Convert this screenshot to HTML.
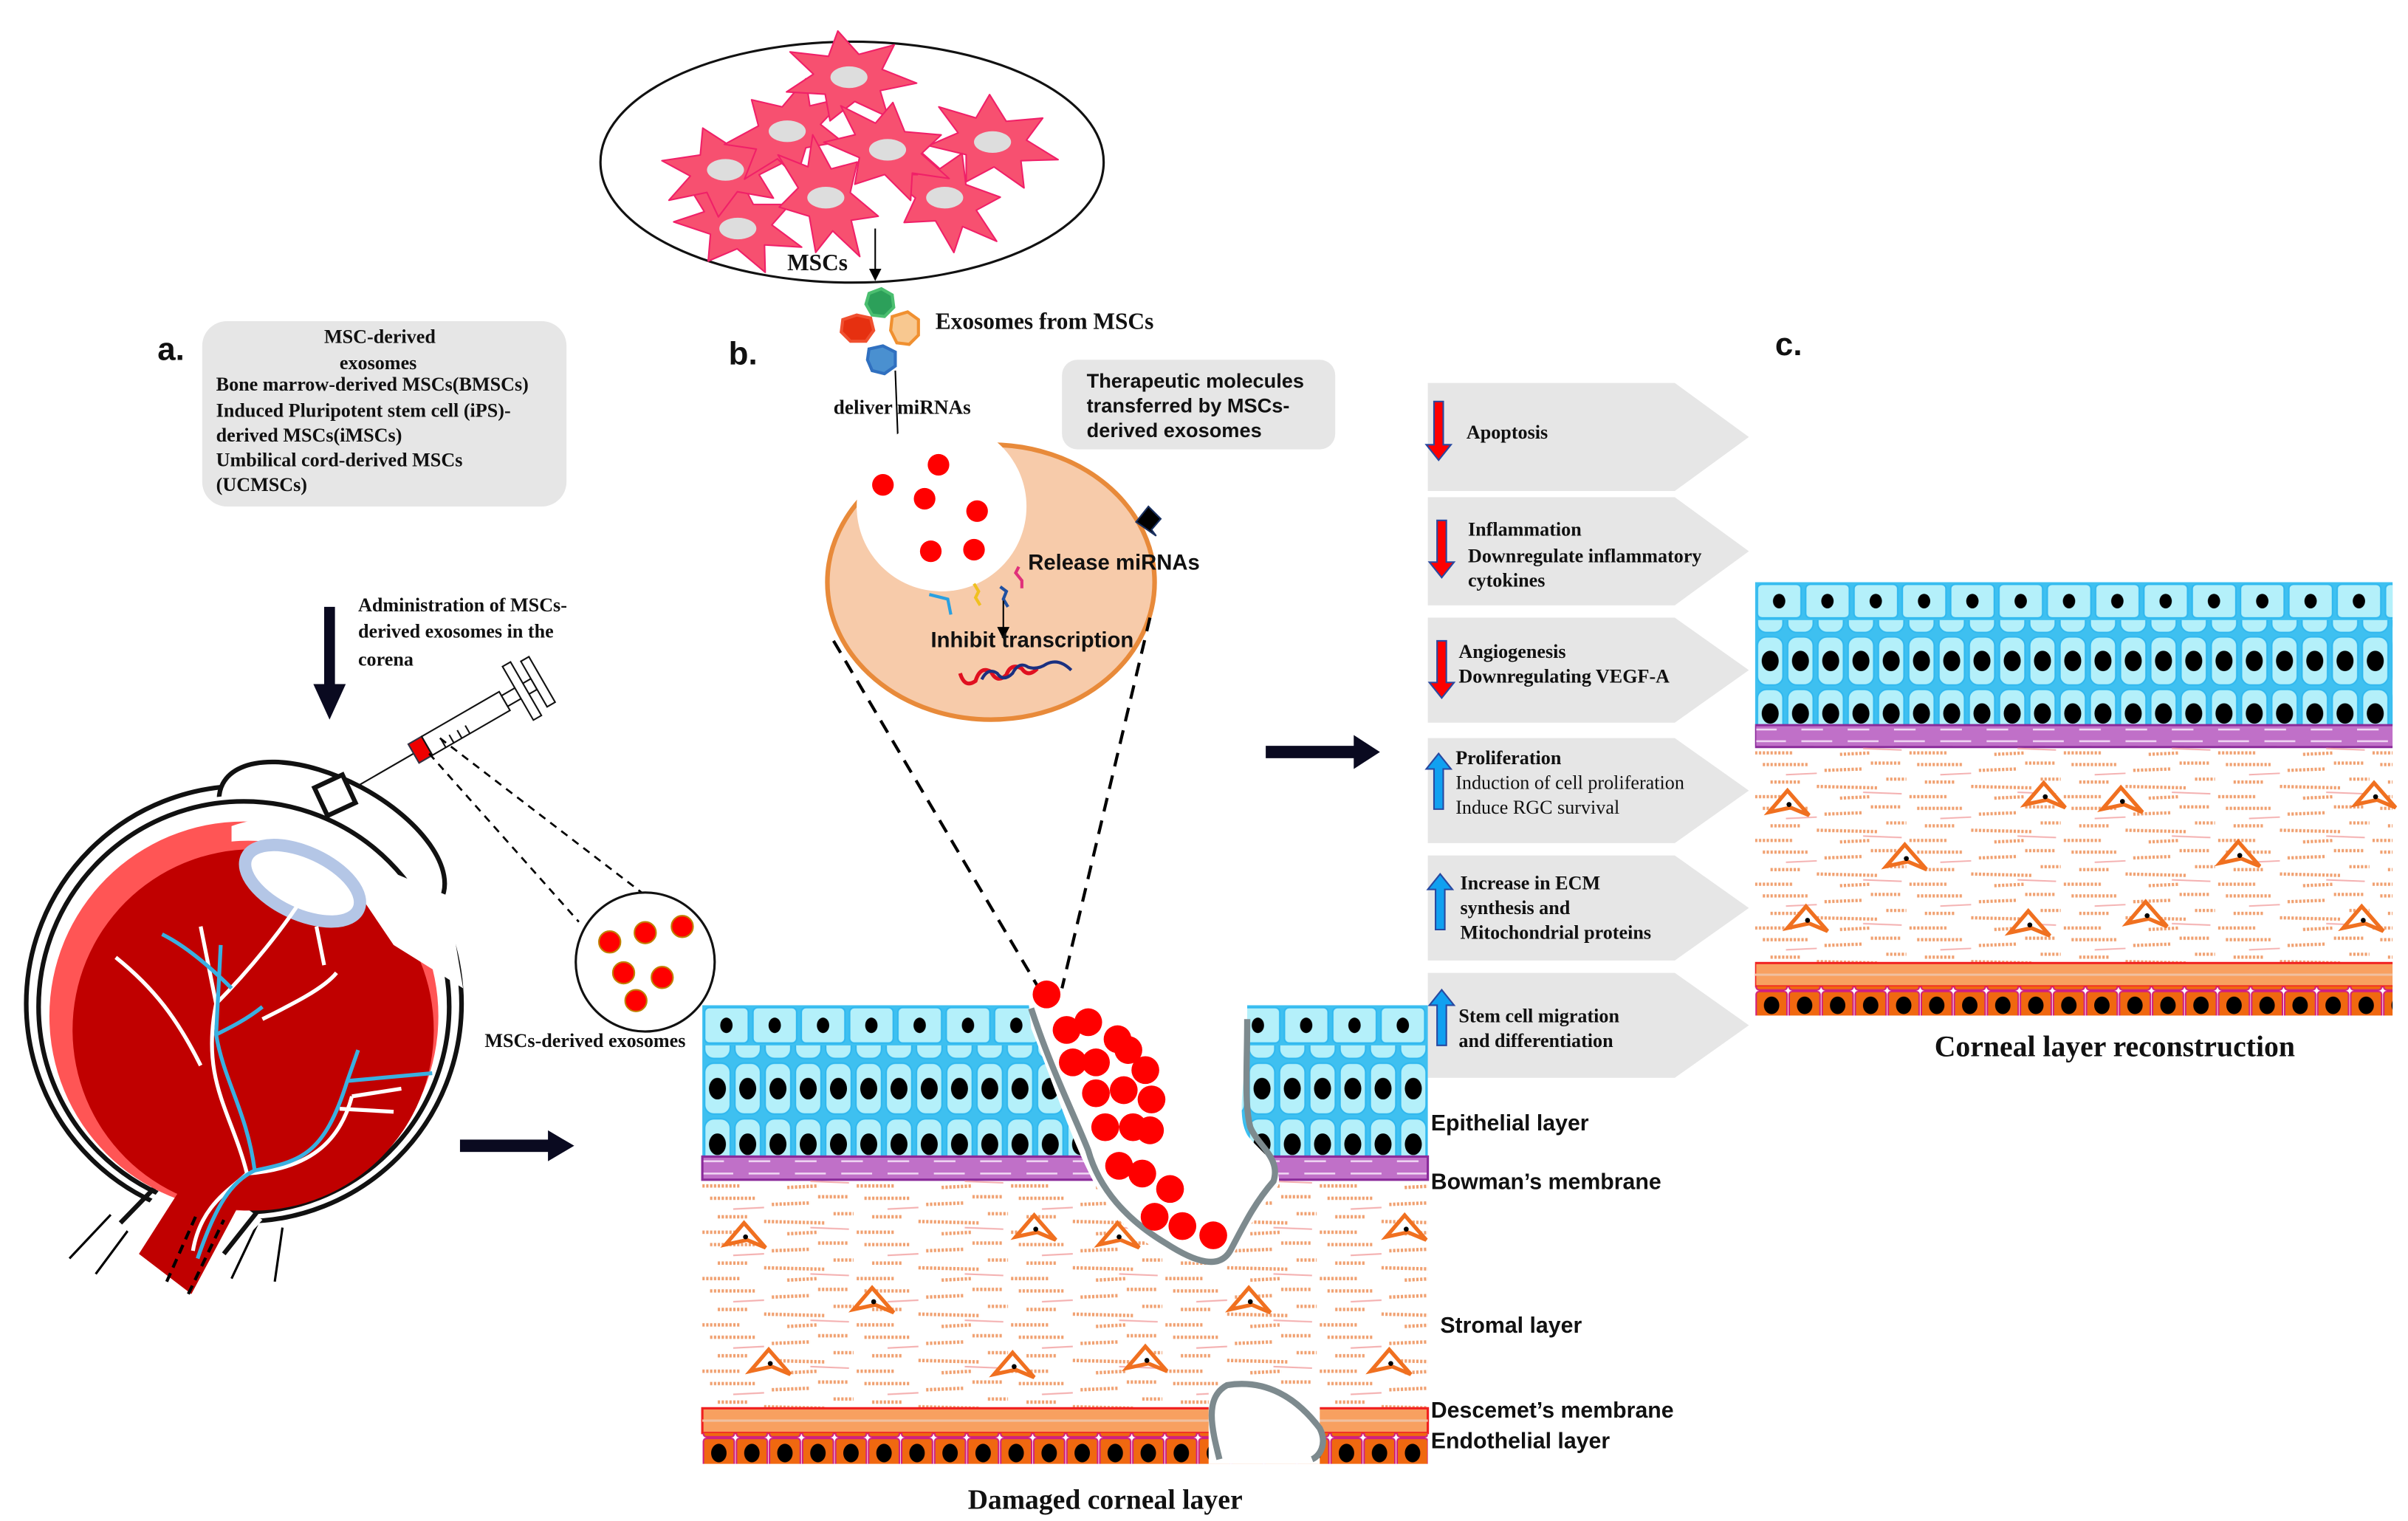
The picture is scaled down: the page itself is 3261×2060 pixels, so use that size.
<!DOCTYPE html>
<html><head><meta charset="utf-8">
<style>
html,body{margin:0;padding:0;background:#fff;}
svg{display:block;}
.s{font-family:"Liberation Serif",serif;font-weight:bold;fill:#111;}
.a{font-family:"Liberation Sans",sans-serif;font-weight:bold;fill:#111;}
</style></head>
<body>
<svg width="3261" height="2060" viewBox="0 0 1560 985" preserveAspectRatio="none" xmlns="http://www.w3.org/2000/svg" xmlns:xlink="http://www.w3.org/1999/xlink">
<defs>
<marker id="ah" markerWidth="8" markerHeight="8" refX="4" refY="4" orient="auto"><path d="M0,0 L8,4 L0,8 z" fill="#000"/></marker>
<polygon id="star" points="44,0 20.9,6.9 27.4,23.4 5.1,15.3 -9.8,29.2 -14.4,12.3 -39.5,13 -23.1,0 -39.5,-13 -14.4,-12.3 -9.8,-29.2 5.1,-15.3 27.4,-23.4 20.9,-6.9" fill="#f75070" stroke="#f02068" stroke-width="1" stroke-linejoin="round"/>
<g id="k"><path d="M0,6 L12,-8 L26,8 L14,3z" fill="#fff" stroke="#f07020" stroke-width="2.5"/><circle cx="13" cy="1" r="1.6" fill="#000"/></g>
<pattern id="pTop" width="31.3" height="26" patternUnits="userSpaceOnUse">
<rect x="1.5" y="1.5" width="28.3" height="23" rx="3" fill="#b4f0fa" stroke="#30b8ef"/><ellipse cx="15.6" cy="13" rx="4" ry="5" fill="#000"/></pattern>
<pattern id="pRow" width="19.6" height="36" patternUnits="userSpaceOnUse">
<rect x="1.5" y="1.5" width="16.6" height="33" rx="6" fill="#b4f0fa" stroke="#30b8ef"/><ellipse cx="9.8" cy="18" rx="5.5" ry="7" fill="#000"/></pattern>
<pattern id="pEn" width="21.4" height="20" patternUnits="userSpaceOnUse">
<rect x="0.7" y="0.5" width="20" height="19" rx="2" fill="#f06810" stroke="#d02080"/><ellipse cx="10.7" cy="10" rx="5" ry="6" fill="#000"/></pattern>
<pattern id="pFib" width="100" height="30" patternUnits="userSpaceOnUse">
<g stroke="#f0a070" stroke-width="2.2" stroke-dasharray="1.5,1" fill="none">
<path d="M5,5 H35 M45,9 L70,8 M75,4 H95 M10,17 H30 M40,20 L80,21 M85,15 H98 M0,27 H25 M55,28 L75,27"/></g>
<g stroke="#f4b0b0" stroke-width="1" fill="none"><path d="M20,12 L40,11 M70,24 L95,25"/></g></pattern>
<pattern id="pBow" width="30" height="15" patternUnits="userSpaceOnUse">
<rect width="30" height="15" fill="#c070c8"/><path d="M0,4 H20 M8,8 H30 M0,11 H14" stroke="#f0d8f4" stroke-width="1.2"/></pattern>
<g id="cor">
<rect x="0" y="0" width="470" height="98" fill="#3ec0f0"/>
<rect x="0" y="0" width="470" height="26" fill="url(#pTop)"/>
<rect x="0" y="26" width="470" height="72" fill="url(#pRow)"/>
<rect x="0" y="98" width="470" height="15" fill="url(#pBow)" stroke="#8a2a9a" stroke-width="1.5"/>
<rect x="0" y="113" width="470" height="148" fill="url(#pFib)"/>
<rect x="0" y="261" width="470" height="16" fill="#f8a060" stroke="#f02020" stroke-width="1.5"/>
<path d="M0,269 H470" stroke="#f0c0a0" stroke-width="1.5"/>
<rect x="0" y="277" width="470" height="20" fill="url(#pEn)"/>
</g>
<clipPath id="clR"><rect x="0" y="0" width="413" height="300"/></clipPath>
</defs>

<!-- MSC ellipse -->
<ellipse cx="552" cy="105" rx="163" ry="78" fill="#fff" stroke="#111" stroke-width="1.5"/>
<use href="#star" xlink:href="#star" transform="translate(478,145) rotate(20)"/>
<use href="#star" xlink:href="#star" transform="translate(470,110) rotate(-10)"/>
<use href="#star" xlink:href="#star" transform="translate(643,92) rotate(15)"/>
<use href="#star" xlink:href="#star" transform="translate(612,128) rotate(40)"/>
<use href="#star" xlink:href="#star" transform="translate(510,85) rotate(-30)"/>
<use href="#star" xlink:href="#star" transform="translate(550,50) rotate(5)"/>
<use href="#star" xlink:href="#star" transform="translate(535,128) rotate(60)"/>
<use href="#star" xlink:href="#star" transform="translate(575,97) rotate(25)"/>
<g fill="#ddd"><ellipse cx="550" cy="50" rx="12" ry="7"/><ellipse cx="470" cy="110" rx="12" ry="7"/><ellipse cx="510" cy="85" rx="12" ry="7"/><ellipse cx="575" cy="97" rx="12" ry="7"/><ellipse cx="643" cy="92" rx="12" ry="7"/><ellipse cx="535" cy="128" rx="12" ry="7"/><ellipse cx="612" cy="128" rx="12" ry="7"/><ellipse cx="478" cy="148" rx="12" ry="7"/></g>
<text x="510" y="175" class="s" font-size="15">MSCs</text>
<line x1="567" y1="148" x2="567" y2="178" stroke="#000" stroke-width="1" marker-end="url(#ah)"/>

<!-- exosomes -->
<path d="M563,190 l8,-3 l7,4 l1,8 l-6,6 l-8,-1 l-4,-7z" fill="#2ca05a" stroke="#4bbf70" stroke-width="2"/>
<path d="M546,207 l9,-3 l9,2 l2,8 l-5,7 l-10,0 l-6,-6z" fill="#e63010" stroke="#f05030" stroke-width="2"/>
<path d="M578,205 l10,-3 l7,5 l0,10 l-6,6 l-8,-1 l-4,-8z" fill="#f8c890" stroke="#f09030" stroke-width="2"/>
<path d="M563,226 l9,-2 l8,4 l0,9 l-7,5 l-8,-2 l-3,-7z" fill="#4a90d0" stroke="#3070c0" stroke-width="2"/>
<text x="606" y="213" class="s" font-size="15">Exosomes from MSCs</text>
<text x="540" y="268" class="s" font-size="13">deliver miRNAs</text>
<line x1="580" y1="240" x2="582" y2="292" stroke="#000" stroke-width="1" marker-end="url(#ah)"/>

<rect x="688" y="233" width="177" height="58" rx="10" fill="#e6e6e6"/>
<text class="a" font-size="13"><tspan x="704" y="251">Therapeutic molecules</tspan><tspan x="704" y="267">transferred  by MSCs-</tspan><tspan x="704" y="283">derived exosomes</tspan></text>

<!-- orange cell -->
<ellipse cx="642" cy="377" rx="106" ry="89" fill="#f7cbaa" stroke="#e88a3a" stroke-width="3"/>
<circle cx="610" cy="328" r="55" fill="#fff"/>
<g fill="#f00"><circle cx="572" cy="314" r="7"/><circle cx="608" cy="301" r="7"/><circle cx="599" cy="323" r="7"/><circle cx="633" cy="331" r="7"/><circle cx="603" cy="357" r="7"/><circle cx="631" cy="356" r="7"/></g>
<path d="M736,338 l8,-10 l8,8 l-6,7 l3,4z" fill="#000" stroke="#1a3060" stroke-width="1"/>
<text x="666" y="369" class="a" font-size="14">Release miRNAs</text>
<path d="M602,385 l12,3 l2,10" stroke="#2aa0e0" stroke-width="2" fill="none"/>
<path d="M631,378 l3,5 l-2,4 l3,5" stroke="#f0c020" stroke-width="2" fill="none"/>
<path d="M648,380 l4,3 l-2,5 l3,5" stroke="#2050a0" stroke-width="2" fill="none"/>
<path d="M660,367 l-2,4 l4,5 l0,5" stroke="#e0307a" stroke-width="2" fill="none"/>
<line x1="650" y1="389" x2="650" y2="410" stroke="#000" stroke-width="1" marker-end="url(#ah)"/>
<text x="603" y="419" class="a" font-size="14">Inhibit transcription</text>
<path d="M622,436 q3,10 10,5 q3,-10 10,-6 q4,8 10,2 q3,-8 10,-4 q4,6 10,0" stroke="#e01020" stroke-width="2.5" fill="none"/>
<path d="M636,440 q4,-8 10,-4 q4,6 10,0 q4,-8 10,-4 q6,2 12,-2 q8,-4 16,4" stroke="#1a3080" stroke-width="2" fill="none"/>
<line x1="540" y1="415" x2="673" y2="640" stroke="#000" stroke-width="2" stroke-dasharray="9,6"/>
<line x1="745" y1="400" x2="688" y2="640" stroke="#000" stroke-width="2" stroke-dasharray="9,6"/>

<!-- labels -->
<text x="102" y="233" class="a" font-size="21">a.</text>
<text x="472" y="236" class="a" font-size="21">b.</text>
<text x="1150" y="230" class="a" font-size="21">c.</text>
<rect x="131" y="208" width="236" height="120" rx="16" fill="#e6e6e6"/>
<text class="s" font-size="12.5"><tspan x="210" y="222">MSC-derived</tspan><tspan x="220" y="239">exosomes</tspan><tspan x="140" y="253">Bone marrow-derived MSCs(BMSCs)</tspan><tspan x="140" y="270">Induced Pluripotent stem cell (iPS)-</tspan><tspan x="140" y="286">derived MSCs(iMSCs)</tspan><tspan x="140" y="302">Umbilical cord-derived MSCs</tspan><tspan x="140" y="318">(UCMSCs)</tspan></text>

<rect x="210" y="393" width="7" height="52" fill="#0a0a20"/>
<path d="M203,443 L224,443 L213.5,466z" fill="#0a0a20"/>
<text class="s" font-size="12.5"><tspan x="232" y="396">Administration of MSCs-</tspan><tspan x="232" y="413">derived  exosomes  in  the</tspan><tspan x="232" y="431">corena</tspan></text>

<!-- syringe -->
<g transform="translate(268,488) rotate(-30)">
<line x1="-60" y1="0" x2="0" y2="0" stroke="#111" stroke-width="1"/>
<rect x="0" y="-7" width="10" height="14" fill="#e00" stroke="#334" stroke-width="1"/>
<rect x="10" y="-7" width="58" height="14" fill="#fff" stroke="#111" stroke-width="1"/>
<path d="M20,7 v-6 M26,7 v-6 M32,7 v-6 M38,7 v-6" stroke="#111"/>
<rect x="68" y="-4" width="22" height="8" fill="#fff" stroke="#111"/>
<rect x="78" y="-20" width="6" height="40" fill="#fff" stroke="#111"/>
<rect x="90" y="-17" width="6" height="34" fill="#fff" stroke="#111"/>
</g>
<line x1="278" y1="488" x2="375" y2="597" stroke="#000" stroke-width="1.3" stroke-dasharray="5,4"/>
<line x1="285" y1="478" x2="434" y2="592" stroke="#000" stroke-width="1.3" stroke-dasharray="5,4"/>
<circle cx="418" cy="623" r="45" fill="#fff" stroke="#111" stroke-width="1.5"/>
<g fill="#f00" stroke="#c08000" stroke-width="1"><circle cx="395" cy="610" r="7"/><circle cx="418" cy="604" r="7"/><circle cx="442" cy="600" r="7"/><circle cx="404" cy="630" r="7"/><circle cx="429" cy="633" r="7"/><circle cx="412" cy="648" r="7"/></g>
<text x="314" y="678" class="s" font-size="12.5">MSCs-derived  exosomes</text>

<!-- eye -->
<g stroke="#000" stroke-width="1.5"><path d="M45,815 L78,780 M62,825 L88,790 M150,828 L168,790 M178,830 L183,795"/></g>
<path d="M70,785 L125,735 L175,785 L125,838z" fill="#fff"/>
<circle cx="158" cy="650" r="141" fill="#fff" stroke="#111" stroke-width="3"/>
<ellipse cx="215" cy="545" rx="80" ry="40" transform="rotate(28 215 545)" fill="#fff" stroke="#111" stroke-width="3"/>
<circle cx="158" cy="650" r="135" fill="#fff" stroke="none"/>
<circle cx="158" cy="652" r="133" fill="none" stroke="#111" stroke-width="3"/>
<path d="M88,790 L118,752 L170,790 L125,838z" fill="#fff"/>
<path d="M78,792 L112,757 M172,778 L145,812" stroke="#111" stroke-width="3"/>
<circle cx="158" cy="658" r="126" fill="#ff5555"/>
<circle cx="164" cy="667" r="117" fill="#c00000"/>
<path d="M90,812 L122,762 L155,780 L124,838z" fill="#c00000"/>
<path d="M150,545 C200,540 250,570 275,620 L280,605 C250,540 190,520 150,535z" fill="#fff"/>
<path d="M190,538 L290,580 L300,640 L255,612 L230,575 L195,555z" fill="#fff"/>
<ellipse cx="196" cy="572" rx="40" ry="20" transform="rotate(25 196 572)" fill="#fff" stroke="#b4c6e6" stroke-width="8"/>
<g stroke="#fff" stroke-width="2.5" fill="none"><path d="M125,810 C130,780 150,770 160,760 C200,757 220,740 228,710 M160,760 C150,720 130,700 140,650 L130,600 M140,650 C160,630 185,600 200,575 M170,660 C190,650 210,640 218,630 M210,625 L205,600 M75,620 C100,640 115,660 130,690 M228,710 L260,705 M220,718 L255,720"/></g>
<g stroke="#3ab0e0" stroke-width="2.5" fill="none"><path d="M128,815 C140,780 150,765 165,758 C195,752 210,748 225,700 L232,680 M165,758 C160,720 145,700 140,670 L143,612 M140,670 C150,665 160,660 170,652 M225,700 L280,695 M150,640 C130,620 115,610 105,605"/></g>
<g stroke="#000" stroke-width="2" stroke-dasharray="6,4"><path d="M108,830 L128,785 M122,838 L145,790"/></g>
<rect x="207" y="505" width="20" height="20" fill="#fff" stroke="#111" stroke-width="3" transform="rotate(-25 217 515)"/>

<!-- arrows -->
<rect x="298" y="738" width="58" height="8" fill="#0a0a20"/><path d="M355,732 L372,742 L355,752z" fill="#0a0a20"/>
<rect x="820" y="483" width="58" height="8" fill="#0a0a20"/><path d="M877,476 L894,487 L877,498z" fill="#0a0a20"/>

<!-- chevrons -->
<g fill="#e6e6e6">
<path d="M925,248 H1085 L1133,283 L1085,318 H925z"/>
<path d="M925,322 H1085 L1133,357 L1085,392 H925z"/>
<path d="M925,400 H1085 L1133,434 L1085,468 H925z"/>
<path d="M925,478 H1085 L1133,512 L1085,546 H925z"/>
<path d="M925,554 H1085 L1133,588 L1085,622 H925z"/>
<path d="M925,630 H1085 L1133,664 L1085,698 H925z"/>
</g>
<g fill="#f00" stroke="#2848a0" stroke-width="1">
<path d="M929,260 h6 v28 h5 l-8,10 l-8,-10 h5z"/>
<path d="M931,337 h6 v27 h5 l-8,10 l-8,-10 h5z"/>
<path d="M931,415 h6 v27 h5 l-8,10 l-8,-10 h5z"/>
</g>
<g fill="#10a0f0" stroke="#2848a0" stroke-width="1">
<path d="M929,524 h6 v-26 h5 l-8,-10 l-8,10 h5z"/>
<path d="M930,602 h6 v-26 h5 l-8,-10 l-8,10 h5z"/>
<path d="M931,677 h6 v-26 h5 l-8,-10 l-8,10 h5z"/>
</g>
<g class="s" font-size="12.5">
<text x="950" y="284">Apoptosis</text>
<text><tspan x="951" y="347">Inflammation</tspan><tspan x="951" y="364">Downregulate inflammatory</tspan><tspan x="951" y="380">cytokines</tspan></text>
<text><tspan x="945" y="426">Angiogenesis</tspan><tspan x="945" y="442">Downregulating VEGF-A</tspan></text>
<text><tspan x="943" y="495">Proliferation</tspan><tspan x="943" y="511" font-weight="normal">Induction of cell proliferation</tspan><tspan x="943" y="527" font-weight="normal">Induce RGC survival</tspan></text>
<text><tspan x="946" y="576">Increase in ECM</tspan><tspan x="946" y="592">synthesis and</tspan><tspan x="946" y="608">Mitochondrial  proteins</tspan></text>
<text><tspan x="945" y="662">Stem cell migration</tspan><tspan x="945" y="678">and differentiation</tspan></text>
</g>

<!-- corneas -->
<use href="#cor" xlink:href="#cor" transform="translate(455,651)"/>
<g transform="translate(1137,377) scale(1,0.945)"><g clip-path="url(#clR)"><use href="#cor" xlink:href="#cor"/></g></g>
<g>
<use href="#k" xlink:href="#k" x="470" y="800"/><use href="#k" xlink:href="#k" x="658" y="795"/><use href="#k" xlink:href="#k" x="712" y="800"/><use href="#k" xlink:href="#k" x="898" y="795"/>
<use href="#k" xlink:href="#k" x="553" y="842"/><use href="#k" xlink:href="#k" x="797" y="842"/><use href="#k" xlink:href="#k" x="486" y="882"/><use href="#k" xlink:href="#k" x="644" y="884"/><use href="#k" xlink:href="#k" x="730" y="880"/><use href="#k" xlink:href="#k" x="888" y="882"/>
<use href="#k" xlink:href="#k" x="1146" y="520"/><use href="#k" xlink:href="#k" x="1312" y="515"/><use href="#k" xlink:href="#k" x="1362" y="518"/><use href="#k" xlink:href="#k" x="1526" y="515"/>
<use href="#k" xlink:href="#k" x="1222" y="555"/><use href="#k" xlink:href="#k" x="1438" y="553"/><use href="#k" xlink:href="#k" x="1158" y="595"/><use href="#k" xlink:href="#k" x="1302" y="598"/><use href="#k" xlink:href="#k" x="1378" y="592"/><use href="#k" xlink:href="#k" x="1518" y="595"/>
</g>

<!-- wound -->
<path d="M666,645 L668,666 C690,720 700,760 725,790 C750,815 770,818 795,820 C805,800 815,785 828,768 C832,755 815,745 808,735 C800,720 808,700 808,655 L808,645z" fill="#fff"/>
<path d="M668,653 C680,690 695,720 705,745 C712,770 730,790 755,805 C775,818 790,822 797,810 C805,795 812,780 825,765 C830,750 815,742 810,730 C806,715 808,690 808,660" fill="none" stroke="#7d8a8e" stroke-width="4"/>
<rect x="783" y="898" width="72" height="50" fill="#fff"/>
<path d="M790,945 C785,925 780,905 795,897 C820,893 840,905 855,925 C860,935 855,943 850,945" fill="#fff" stroke="#7d8a8e" stroke-width="4"/>
<g fill="#f00">
<circle cx="678" cy="644" r="9"/><circle cx="691" cy="667" r="9"/><circle cx="705" cy="662" r="9"/><circle cx="724" cy="673" r="9"/><circle cx="695" cy="688" r="9"/><circle cx="710" cy="688" r="9"/><circle cx="731" cy="680" r="9"/><circle cx="742" cy="693" r="9"/><circle cx="710" cy="708" r="9"/><circle cx="728" cy="706" r="9"/><circle cx="746" cy="712" r="9"/><circle cx="745" cy="732" r="9"/><circle cx="716" cy="730" r="9"/><circle cx="734" cy="730" r="9"/><circle cx="725" cy="755" r="9"/><circle cx="740" cy="760" r="9"/><circle cx="758" cy="770" r="9"/><circle cx="748" cy="788" r="9"/><circle cx="766" cy="794" r="9"/><circle cx="786" cy="800" r="9"/>
</g>

<g class="a" font-size="14.5">
<text x="927" y="732">Epithelial layer</text>
<text x="927" y="770">Bowman’s membrane</text>
<text x="933" y="863">Stromal layer</text>
<text x="927" y="918">Descemet’s membrane</text>
<text x="927" y="938">Endothelial layer</text>
</g>
<text x="716" y="977" class="s" font-size="18" text-anchor="middle">Damaged corneal layer</text>
<text x="1370" y="684" class="s" font-size="19" text-anchor="middle">Corneal layer reconstruction</text>
</svg>
</body></html>
